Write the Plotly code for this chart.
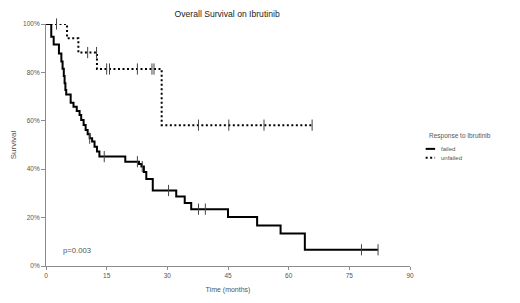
import plotly.graph_objects as go

# ---- data ----
failed_time = [0, 1.3, 1.9, 3.2, 3.8, 4.1, 4.4, 4.6, 4.8, 5.0, 6.1, 6.8, 7.6, 8.3, 8.7, 9.3, 9.8,
               10.3, 10.8, 11.4, 12.0, 12.6, 13.2, 19.6, 23.0, 23.6, 24.2, 24.8, 26.4, 32.2,
               34.3, 35.9, 45.0, 52.2, 58.0, 64.0, 82.1]
failed_surv = [100, 94.7, 91.5, 87.8, 84.5, 81.5, 78.5, 75.5, 72.7, 70.9, 67.5, 65.8, 64.1, 62.4,
               60.3, 58.3, 56.2, 54.4, 52.8, 51.4, 49.3, 47.3, 45.2, 43.1, 42.2, 41.1, 38.8, 36.0,
               31.2, 28.7, 26.0, 23.5, 20.2, 16.7, 13.4, 6.7, 6.7]
failed_cens_time = [10.8, 14.4, 22.6, 23.8, 30.3, 37.7, 39.4, 78.0, 82.1]
failed_cens_surv = [52.8, 45.2, 43.1, 41.1, 31.2, 23.5, 23.5, 6.7, 6.7]

unfailed_time = [0, 5.2, 8.0, 12.6, 28.6, 65.8]
unfailed_surv = [100, 94.1, 88.2, 81.4, 58.2, 58.2]
unfailed_cens_time = [2.6, 10.3, 12.5, 15.0, 15.7, 22.6, 26.2, 26.7, 37.7, 45.2, 53.9, 65.8]
unfailed_cens_surv = [100, 88.2, 88.2, 81.4, 81.4, 81.4, 81.4, 81.4, 58.2, 58.2, 58.2, 58.2]

x_ticks = [0, 15, 30, 45, 60, 75, 90]
y_ticks = [0, 20, 40, 60, 80, 100]
y_ticklabels = ["0%", "20%", "40%", "60%", "80%", "100%"]

FONT = "Arial, Liberation Sans, sans-serif"
AX = "#8c8c8c"
TXT = "#555555"
DOT = "2px,2.5px"

fig = go.Figure()
fig.add_trace(go.Scatter(x=failed_time, y=failed_surv, mode="lines", line_shape="hv",
                         line=dict(color="black", width=2), name="failed", showlegend=False))
fig.add_trace(go.Scatter(x=unfailed_time, y=unfailed_surv, mode="lines", line_shape="hv",
                         line=dict(color="black", width=2, dash=DOT), name="unfailed",
                         showlegend=False))
fig.add_trace(go.Scatter(x=failed_cens_time, y=failed_cens_surv, mode="markers",
                         marker=dict(symbol="line-ns", size=8, line=dict(width=1, color="#444")),
                         showlegend=False, cliponaxis=False))
fig.add_trace(go.Scatter(x=unfailed_cens_time, y=unfailed_cens_surv, mode="markers",
                         marker=dict(symbol="line-ns", size=8, line=dict(width=1, color="#444")),
                         showlegend=False, cliponaxis=False))

# manual legend (paper coords)
legend_shapes = [
    dict(type="line", xref="paper", yref="paper", x0=1.043, x1=1.069, y0=0.484, y1=0.484,
         line=dict(color="black", width=2)),
    dict(type="line", xref="paper", yref="paper", x0=1.043, x1=1.069, y0=0.447, y1=0.447,
         line=dict(color="black", width=2, dash=DOT)),
]
annotations = [
    dict(text="Response to Ibrutinib", xref="paper", yref="paper", x=1.047, y=0.539,
         xanchor="left", yanchor="middle", showarrow=False, font=dict(size=6.5, color=TXT, family=FONT)),
    dict(text="failed", xref="paper", yref="paper", x=1.080, y=0.484,
         xanchor="left", yanchor="middle", showarrow=False, font=dict(size=6, color=TXT, family=FONT)),
    dict(text="unfailed", xref="paper", yref="paper", x=1.080, y=0.447,
         xanchor="left", yanchor="middle", showarrow=False, font=dict(size=6, color=TXT, family=FONT)),
    dict(text="p=0.003", x=3.6, y=6.3, xref="x", yref="y", xanchor="left", yanchor="middle",
         showarrow=False, font=dict(size=7.7, color=TXT, family=FONT)),
]

# page body has an 8px margin, so the figure is drawn 8px smaller and shifted
fig.update_layout(
    width=512, height=295,
    margin=dict(l=38, r=110, t=16, b=37, autoexpand=False),
    paper_bgcolor="white", plot_bgcolor="white",
    title=dict(text="Overall Survival on Ibrutinib", x=0.428, xanchor="center", y=0.98,
               yanchor="middle", font=dict(size=8.6, color="#222", family=FONT)),
    shapes=legend_shapes,
    annotations=annotations,
    showlegend=False,
)
fig.update_xaxes(range=[0, 90], tickvals=x_ticks, showgrid=False, zeroline=False,
                 showline=True, linecolor=AX, linewidth=1, ticks="outside", ticklen=3,
                 tickcolor=AX, tickfont=dict(size=6.5, color=TXT, family=FONT), automargin=False,
                 title=dict(text="Time (months)", font=dict(size=7, color=TXT, family=FONT),
                            standoff=9))
fig.update_yaxes(range=[0, 100], tickvals=y_ticks, ticktext=y_ticklabels, showgrid=False,
                 zeroline=False, showline=True, linecolor=AX, linewidth=1, ticks="outside",
                 ticklen=4, tickcolor=AX, tickfont=dict(size=6.5, color=TXT, family=FONT),
                 automargin=False,
                 title=dict(text="Survival", font=dict(size=8, color=TXT, family=FONT),
                            standoff=5))

fig.write_html("out.html")
